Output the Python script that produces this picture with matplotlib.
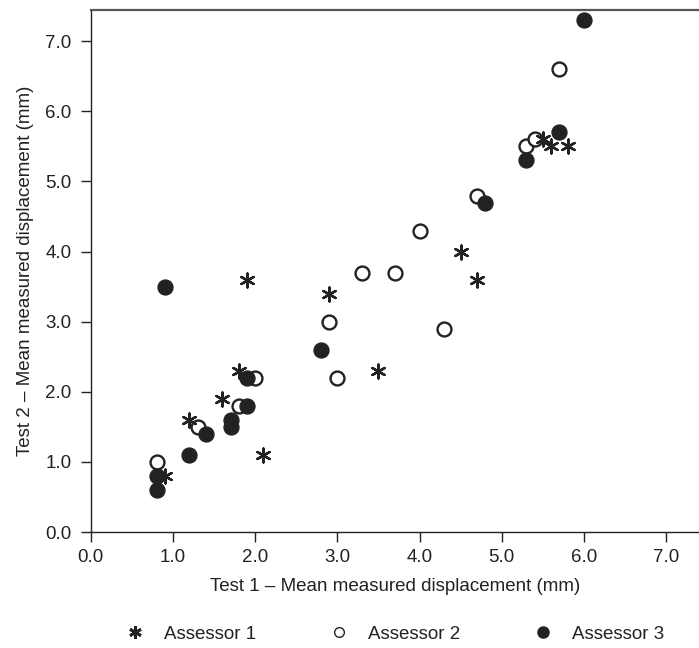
import matplotlib
matplotlib.use("Agg")
import matplotlib.pyplot as plt
from matplotlib.lines import Line2D
from matplotlib.ticker import FormatStrFormatter

plt.rcParams['font.family'] = ['Liberation Sans', 'DejaVu Sans']

# Assessor 1 (asterisks)
a1_x = [0.9, 1.2, 1.6, 1.8, 1.9, 2.1, 2.9, 3.5, 4.5, 4.7, 5.5, 5.6, 5.8]
a1_y = [0.8, 1.6, 1.9, 2.3, 3.6, 1.1, 3.4, 2.3, 4.0, 3.6, 5.6, 5.5, 5.5]

# Assessor 2 (open circles)
a2_x = [0.8, 1.3, 1.8, 2.0, 2.9, 3.0, 3.3, 3.7, 4.0, 4.3, 4.7, 5.3, 5.4, 5.7]
a2_y = [1.0, 1.5, 1.8, 2.2, 3.0, 2.2, 3.7, 3.7, 4.3, 2.9, 4.8, 5.5, 5.6, 6.6]

# Assessor 3 (filled circles)
a3_x = [0.8, 0.8, 0.9, 1.2, 1.4, 1.7, 1.7, 1.9, 1.9, 2.8, 4.8, 5.3, 5.7, 6.0]
a3_y = [0.8, 0.6, 3.5, 1.1, 1.4, 1.5, 1.6, 1.8, 2.2, 2.6, 4.7, 5.3, 5.7, 7.3]

ticks = [0.0, 1.0, 2.0, 3.0, 4.0, 5.0, 6.0, 7.0]

fig = plt.figure(figsize=(6.99, 6.48), dpi=100)
ax = fig.add_axes([0.130, 0.179, 0.870, 0.806])

star = (6, 2, 0)
ax.scatter(a1_x, a1_y, marker=star, s=100, color='#222222', linewidths=1.7, zorder=3)
ax.scatter(a2_x, a2_y, marker='o', s=100, facecolors='white', edgecolors='#222222',
           linewidths=1.7, zorder=2)
ax.scatter(a3_x, a3_y, marker='o', s=115, color='#222222', edgecolors='#222222',
           linewidths=1.0, zorder=2)

ax.set_xlim(0, 7.4)
ax.set_ylim(0, 7.45)
ax.set_xticks(ticks)
ax.set_yticks(ticks)
ax.xaxis.set_major_formatter(FormatStrFormatter('%.1f'))
ax.yaxis.set_major_formatter(FormatStrFormatter('%.1f'))
ax.tick_params(axis='both', direction='out', length=7, width=1, labelsize=13.5,
               colors='#222222')
ax.tick_params(axis='x', pad=5)
ax.tick_params(axis='y', pad=7)
ax.spines['right'].set_visible(False)
ax.spines['top'].set_color('#555555')
ax.spines['top'].set_linewidth(1.6)
for s in ['left', 'bottom']:
    ax.spines[s].set_color('#222222')
    ax.spines[s].set_linewidth(1.0)

ax.set_xlabel("Test 1 \u2013 Mean measured displacement (mm)", fontsize=13.5,
              color='#222222', labelpad=9)
ax.set_ylabel("Test 2 \u2013 Mean measured displacement (mm)", fontsize=13.5,
              color='#222222', labelpad=8)

handles = [
    Line2D([], [], linestyle='none', marker=star, markersize=9, markeredgewidth=2.0,
           color='#222222', label='Assessor 1'),
    Line2D([], [], linestyle='none', marker='o', markersize=7, markerfacecolor='white',
           markeredgecolor='#222222', markeredgewidth=1.0, label='Assessor 2'),
    Line2D([], [], linestyle='none', marker='o', markersize=8, color='#222222',
           label='Assessor 3'),
]
fig.legend(handles=handles, loc='center', bbox_to_anchor=(0.566, 0.021), ncol=3,
           frameon=False, fontsize=13.5, handlelength=0.8, handletextpad=1.15,
           columnspacing=4.0, labelcolor='#222222')

fig.savefig("out.png", dpi=100)
